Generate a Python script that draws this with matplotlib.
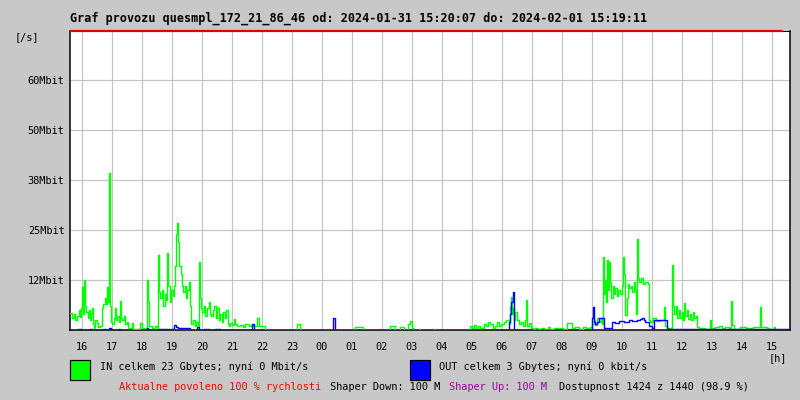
import matplotlib
matplotlib.use("Agg")
import matplotlib.pyplot as plt
from matplotlib.patches import Rectangle

# ---- data -------------------------------------------------------------
# minutes since chart start (1440 minutes = 24 h), values in Mbit/s
in_minutes = [0, 4, 7, 10, 14, 17, 19, 21, 23, 25, 26, 28, 30, 32, 35, 37, 39, 41, 43, 45,
              47, 49, 53, 56, 60, 63, 66, 69, 72, 74, 76, 78, 80, 81, 84, 87, 89, 91, 94, 97,
              99, 101, 104, 107, 110, 113, 116, 123, 126, 139, 143, 151, 153, 155, 157, 163,
              169, 173, 175, 177, 180, 183, 186, 189, 192, 194, 196, 199, 202, 205, 207, 209,
              212, 214, 216, 218, 221, 223, 226, 229, 232, 234, 237, 239, 241, 245, 249, 252,
              255, 257, 259, 261, 264, 267, 270, 273, 277, 279, 282, 285, 288, 291, 294, 297,
              300, 303, 306, 309, 312, 315, 317, 320, 324, 327, 330, 333, 340, 345, 350, 357,
              361, 366, 373, 378, 390, 454, 460, 570, 585, 640, 650, 659, 668, 675, 679, 683,
              686, 697, 699, 727, 729, 800, 804, 808, 812, 816, 820, 827, 831, 835, 840, 845,
              850, 853, 857, 862, 867, 872, 877, 879, 881, 883, 885, 887, 890, 893, 897, 901,
              905, 909, 911, 913, 917, 921, 925, 930, 936, 942, 948, 955, 960, 967, 973, 985,
              993, 1003, 1010, 1017, 1025, 1032, 1040, 1044, 1047, 1050, 1053, 1057, 1061,
              1064, 1066, 1068, 1070, 1072, 1074, 1076, 1078, 1080, 1082, 1085, 1087, 1090,
              1093, 1096, 1100, 1103, 1106, 1108, 1110, 1113, 1115, 1118, 1121, 1124, 1127,
              1130, 1131, 1133, 1135, 1138, 1142, 1145, 1150, 1155, 1157, 1160, 1165, 1172,
              1180, 1187, 1189, 1194, 1204, 1206, 1208, 1211, 1214, 1217, 1220, 1223, 1226,
              1228, 1230, 1233, 1236, 1239, 1242, 1245, 1248, 1252, 1254, 1258, 1265, 1270,
              1279, 1281, 1290, 1297, 1303, 1310, 1318, 1321, 1323, 1328, 1340, 1352, 1365,
              1380, 1382, 1393, 1398, 1407, 1410, 1440]
in_mbit = [4.2, 3.0, 4.0, 2.6, 3.4, 5.0, 3.2, 5.5, 10.8, 7.5, 4.0, 12.5, 6.0, 4.5, 3.0, 5.0,
           2.5, 4.0, 5.4, 1.5, 0.4, 2.5, 1.8, 0.8, 1.0, 5.5, 6.5, 8.0, 6.5, 10.8, 7.0, 39.2,
           6.0, 2.0, 1.5, 3.0, 5.4, 2.5, 3.5, 2.0, 7.2, 3.0, 2.5, 3.5, 1.5, 2.0, 0.4, 1.7, 0.2,
           1.7, 0.4, 0.5, 12.5, 7.0, 1.0, 0.5, 1.0, 0.6, 18.75, 9.5, 8.0, 10.0, 6.0, 9.0, 7.5,
           19.2, 11.0, 7.0, 10.0, 8.5, 11.0, 16.0, 24.0, 26.7, 22.0, 16.0, 14.0, 11.0, 9.5,
           11.0, 8.0, 10.0, 12.0, 6.0, 1.5, 2.5, 1.0, 2.0, 1.0, 17.0, 8.0, 5.5, 4.5, 6.0, 3.5,
           5.5, 7.0, 4.0, 3.5, 5.0, 6.0, 3.0, 5.5, 2.5, 4.0, 2.0, 4.5, 3.0, 5.0, 1.5, 1.0, 1.7,
           1.2, 2.7, 1.5, 1.0, 1.3, 0.8, 1.5, 1.0, 1.2, 1.0, 3.0, 1.0, 0.0, 1.5, 0.0, 0.8, 0.0,
           1.1, 0.0, 0.8, 0.0, 1.5, 2.2, 0.5, 0.0, 0.3, 0.0, 0.3, 0.0, 1.0, 0.5, 1.2, 0.6, 1.0,
           0.5, 1.5, 1.0, 2.0, 1.6, 0.5, 1.0, 2.0, 1.0, 1.5, 2.0, 2.5, 1.5, 6.0, 8.3, 4.0, 5.5,
           2.5, 4.5, 2.5, 1.5, 2.0, 1.0, 2.5, 7.5, 1.0, 1.7, 0.6, 0.3, 0.6, 0.2, 0.6, 0.3, 0.8,
           0.3, 0.5, 0.6, 0.3, 1.7, 0.5, 0.8, 0.3, 0.7, 0.4, 0.8, 1.5, 2.5, 1.2, 3.0, 2.0, 3.0,
           1.5, 18.3, 9.0, 12.5, 7.0, 17.5, 10.0, 17.0, 12.0, 8.0, 11.0, 9.0, 10.5, 8.5, 10.0,
           9.0, 11.0, 18.3, 14.0, 3.8, 8.0, 11.5, 10.5, 11.0, 9.5, 12.0, 10.0, 4.0, 22.7, 13.0,
           12.0, 13.0, 11.5, 12.0, 11.5, 2.5, 2.0, 3.0, 2.2, 2.5, 5.8, 1.0, 0.4, 16.25, 6.0,
           4.0, 6.0, 3.0, 5.0, 3.0, 4.5, 2.5, 6.7, 3.5, 5.0, 2.8, 4.0, 2.5, 4.5, 3.0, 3.5, 0.8,
           0.4, 0.6, 0.3, 2.5, 0.5, 0.8, 1.0, 0.4, 0.8, 0.6, 7.25, 1.2, 0.3, 0.8, 0.6, 0.8,
           5.7, 0.8, 0.4, 0.0, 0.8, 0.0, 0.0]

out_minutes = [0, 15, 21, 39, 44, 66, 71, 78, 81, 96, 99, 153, 156, 176, 206, 208, 211, 216,
               233, 239, 253, 258, 267, 277, 290, 300, 363, 367, 525, 529, 878, 880, 882, 885,
               887, 888, 1043, 1045, 1047, 1050, 1053, 1057, 1068, 1083, 1090, 1097, 1107,
               1117, 1123, 1133, 1140, 1143, 1147, 1150, 1157, 1163, 1167, 1193, 1440]
out_mbit = [0.0, 0.25, 0.0, 0.25, 0.0, 0.25, 0.0, 0.4, 0.0, 0.25, 0.0, 0.4, 0.0, 0.25, 0.25,
            1.25, 0.7, 0.6, 0.4, 0.0, 0.8, 0.0, 0.25, 0.0, 0.25, 0.0, 1.5, 0.0, 2.9, 0.0, 2.0,
            4.0, 7.0, 9.6, 5.0, 0.0, 3.0, 5.8, 2.0, 1.5, 2.0, 3.0, 0.4, 2.0, 1.8, 2.2, 2.0,
            2.5, 2.2, 2.5, 2.8, 3.0, 2.5, 2.0, 1.0, 0.4, 2.5, 0.2, 0.0]

hour_labels = ["16", "17", "18", "19", "20", "21", "22", "23", "00", "01", "02", "03",
               "04", "05", "06", "07", "08", "09", "10", "11", "12", "13", "14", "15"]
first_hour_minute = 24          # minute of the first full hour after chart start
y_tick_values = [12.5, 25, 37.5, 50, 62.5]
y_tick_labels = ["12Mbit", "25Mbit", "38Mbit", "50Mbit", "60Mbit"]
y_max = 74.75
available_minutes = 1425

title = "Graf provozu quesmpl_172_21_86_46 od: 2024-01-31 15:20:07 do: 2024-02-01 15:19:11"
legend_in = "IN celkem 23 Gbytes; nyní 0 Mbit/s"
legend_out = "OUT celkem 3 Gbytes; nyní 0 kbit/s"

# ---- figure -------------------------------------------------------------
W, H = 800, 400
BG = "#C8C8C8"
fig = plt.figure(figsize=(8, 4), dpi=100, facecolor=BG)
L, R, T, B = 70, 790, 31, 330
ax = fig.add_axes([L / W, 1 - B / H, (R - L) / W, (B - T) / H])
ax.set_facecolor("white")
ax.set_xlim(0, 1440)
ax.set_ylim(0, y_max)

mono = "DejaVu Sans Mono"
px = 0.72  # one pixel in points

hour_pos = [first_hour_minute + 60 * i for i in range(len(hour_labels))]
for hp in hour_pos:
    ax.axvline(hp, color="#C4C4C4", lw=1.2 * px, zorder=1)
for yv in y_tick_values:
    ax.axhline(yv, color="#C4C4C4", lw=1.2 * px, zorder=1)

ax.plot(in_minutes, in_mbit, drawstyle="steps-post", color="#00FF00", lw=1.4 * px, zorder=3)
ax.plot(out_minutes, out_mbit, drawstyle="steps-post", color="#0000FF", lw=1.4 * px, zorder=4)

# red limit line along the top (available time)
ax.plot([0, available_minutes], [y_max, y_max], color="#E00000", lw=2.2 * px,
        zorder=5, clip_on=False, solid_capstyle="butt")

for side in ["left", "bottom", "right", "top"]:
    ax.spines[side].set_color("black")
    ax.spines[side].set_linewidth(1.5 * px)
ax.spines["top"].set_linewidth(1.0 * px)

ax.set_xticks(hour_pos)
ax.set_xticklabels(hour_labels, fontfamily=mono, fontsize=7.4)
ax.set_yticks(y_tick_values)
ax.set_yticklabels(y_tick_labels, fontfamily=mono, fontsize=7.4)
ax.tick_params(axis="x", length=0, pad=9)
ax.tick_params(axis="y", length=0, pad=4)

def ftext(x, y, s, **kw):
    kw.setdefault("fontfamily", mono)
    kw.setdefault("fontsize", 7.4)
    kw.setdefault("va", "center")
    fig.text(x / W, 1 - y / H, s, **kw)

ftext(70, 18, title, fontsize=8.45, fontweight="bold")
ftext(15, 37, "[/s]")
ftext(769, 358, "[h]")

fig.add_artist(Rectangle((70 / W, 1 - 380 / H), 20 / W, 20 / H, transform=fig.transFigure,
                         facecolor="#00FF00", edgecolor="black", lw=1.2 * px))
fig.add_artist(Rectangle((410 / W, 1 - 380 / H), 20 / W, 20 / H, transform=fig.transFigure,
                         facecolor="#0000FF", edgecolor="black", lw=1.2 * px))
ftext(100, 367, legend_in)
ftext(439, 367, legend_out)

ftext(119, 387, "Aktualne povoleno 100 % rychlosti", color="#FF0000")
ftext(330, 387, "Shaper Down: 100 M", color="black")
ftext(449, 387, "Shaper Up: 100 M", color="#A000A0")
ftext(559, 387, "Dostupnost 1424 z 1440 (98.9 %)", color="black")

fig.savefig("out.png", dpi=100, facecolor=BG)
